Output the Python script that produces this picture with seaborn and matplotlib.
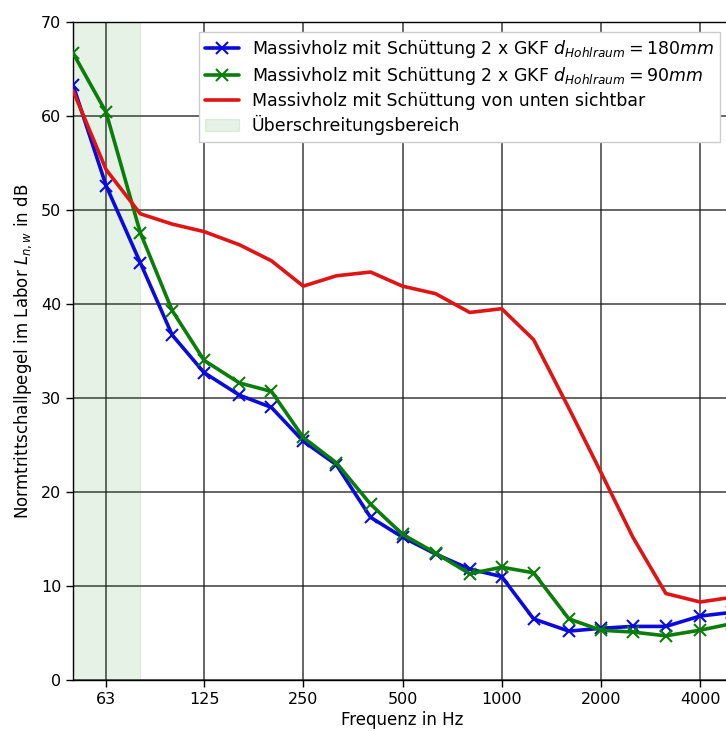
import matplotlib
matplotlib.use("Agg")
import matplotlib.pyplot as plt
import matplotlib.ticker as mticker
import numpy as np
import pandas as pd
import seaborn as sns

# Third-octave band centre frequencies (Hz)
freqs = [50, 63, 80, 100, 125, 160, 200, 250, 315, 400, 500, 630, 800,
         1000, 1250, 1600, 2000, 2500, 3150, 4000, 5000]

# Normalised impact sound pressure level L_n,w (dB)
ln_180mm = [63.3, 52.6, 44.4, 36.7, 32.7, 30.3, 29.0, 25.4, 22.9, 17.3, 15.2,
            13.4, 11.8, 11.0, 6.5, 5.2, 5.5, 5.7, 5.7, 6.8, 7.2]
ln_90mm = [66.7, 60.4, 47.6, 39.3, 34.0, 31.6, 30.7, 25.8, 23.1, 18.7, 15.5,
           13.5, 11.3, 12.0, 11.4, 6.5, 5.3, 5.1, 4.7, 5.3, 6.0]
ln_exposed = [62.7, 54.3, 49.6, 48.5, 47.7, 46.3, 44.6, 41.9, 43.0, 43.4, 41.9,
              41.1, 39.1, 39.5, 36.2, 28.9, 22.1, 15.2, 9.2, 8.3, 8.8]

labels = [
    r"Massivholz mit Schüttung 2 x GKF $d_{Hohlraum} = 180mm$",
    r"Massivholz mit Schüttung 2 x GKF $d_{Hohlraum} = 90mm$",
    "Massivholz mit Schüttung von unten sichtbar",
]
shade_label = "Überschreitungsbereich"
shade_range = (50, 80)

tick_freqs = [63, 125, 250, 500, 1000, 2000, 4000]
tick_labels = ["63", "125", "250", "500", "1000", "2000", "4000"]

df = pd.DataFrame({
    "f": freqs * 3,
    "L": ln_180mm + ln_90mm + ln_exposed,
    "serie": [labels[0]] * len(freqs) + [labels[1]] * len(freqs) + [labels[2]] * len(freqs),
})

sns.set_style("white")
plt.rcParams["font.family"] = ["DejaVu Sans"]
plt.rcParams["text.color"] = "black"
plt.rcParams["axes.labelcolor"] = "black"
plt.rcParams["xtick.color"] = "black"
plt.rcParams["ytick.color"] = "black"

fig = plt.figure(figsize=(7.26, 7.31), dpi=100)
ax = fig.add_axes([73 / 726, 1 - 680 / 731, (732 - 73) / 726, (680 - 22) / 731])

colors = ["#0a0adc", "#0a7d0a", "#e01414"]
markers = ["x", "x", None]
for lab, col, mk in zip(labels, colors, markers):
    sub = df[df["serie"] == lab]
    sns.lineplot(data=sub, x="f", y="L", ax=ax, color=col, lw=2.6,
                 marker=mk, markersize=8, markeredgewidth=1.5,
                 markeredgecolor=col, label=lab, zorder=3)

ax.axvspan(*shade_range, color="green", alpha=0.1, label=shade_label, zorder=1)

ax.set_xscale("log")
ax.set_xlim(50, 5000)
ax.set_ylim(0, 70)
ax.xaxis.set_major_locator(mticker.FixedLocator(tick_freqs))
ax.xaxis.set_major_formatter(mticker.FixedFormatter(tick_labels))
ax.xaxis.set_minor_locator(mticker.NullLocator())
ax.yaxis.set_major_locator(mticker.MultipleLocator(10))

ax.grid(True, which="major", color="#1a1a1a", lw=1.1, alpha=0.85, zorder=0)
ax.set_axisbelow(True)
for s in ax.spines.values():
    s.set_color("black")
    s.set_linewidth(1.0)
ax.tick_params(axis="both", which="major", labelsize=11.5, length=5, width=1,
               direction="out", bottom=True, left=True, color="black",
               labelcolor="black")

ax.set_xlabel("Frequenz in Hz", fontsize=12, labelpad=3)
ax.set_ylabel(r"Normtrittschallpegel im Labor $L_{n,w}$ in dB", fontsize=12, labelpad=5)

handles, labs = ax.get_legend_handles_labels()
if ax.get_legend() is not None:
    ax.get_legend().remove()
leg = fig.legend(handles, labs, loc="upper left", bbox_to_anchor=(190 / 726, 1 - 23 / 731),
                 fontsize=12.5, frameon=True, framealpha=1, edgecolor="#cccccc",
                 fancybox=False, handlelength=2.0, borderpad=0.35, labelspacing=0.3,
                 handletextpad=0.7)
for t in leg.get_texts():
    t.set_color("black")

fig.savefig("out.png", dpi=100)
